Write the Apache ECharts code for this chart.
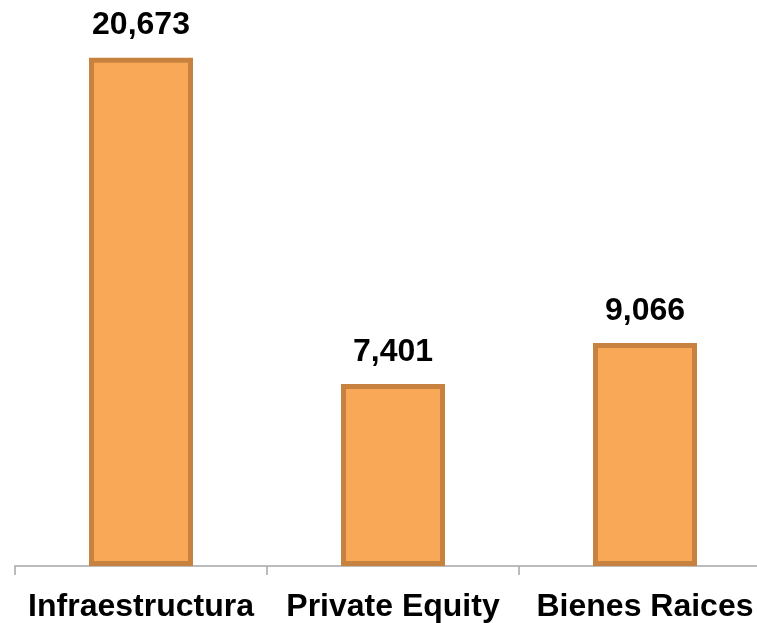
<!DOCTYPE html>
<html>
<head>
<meta charset="utf-8">
<script src="https://cdn.jsdelivr.net/npm/echarts@6/dist/echarts.min.js"></script>
<style>html,body{margin:0;padding:0;background:#fff;overflow:hidden;}#c{width:771px;height:623px;}</style>
</head>
<body>
<div id="c"></div>
<script>
const categories = ['Infraestructura', 'Private Equity', 'Bienes Raices'];
const values = [20673, 7401, 9066];

const chart = echarts.init(document.getElementById('c'), null, {renderer: 'canvas'});
chart.setOption({
  animation: false,
  grid: {left: 15, right: 0, top: 25, bottom: 57, containLabel: false},
  xAxis: {
    type: 'category',
    data: categories,
    axisLine: {lineStyle: {color: '#A6A6A6', width: 1.5}},
    axisTick: {show: true, length: 9, lineStyle: {color: '#A6A6A6', width: 1.5}},
    axisLabel: {
      color: '#000', fontFamily: 'Liberation Sans, Arial, sans-serif',
      fontWeight: 'bold', fontSize: 32, margin: 25, interval: 0
    }
  },
  yAxis: {
    type: 'value', min: 0, max: 22000,
    show: false, splitLine: {show: false}
  },
  series: [{
    type: 'bar',
    data: values,
    barWidth: 104,
    itemStyle: {color: '#F9A857', borderColor: '#C8823F', borderWidth: 5},
    label: {
      show: true, position: 'top', distance: 16,
      color: '#000', fontFamily: 'Liberation Sans, Arial, sans-serif',
      fontWeight: 'bold', fontSize: 32,
      formatter: p => p.value.toLocaleString('en-US')
    }
  }]
});
</script>
</body>
</html>
